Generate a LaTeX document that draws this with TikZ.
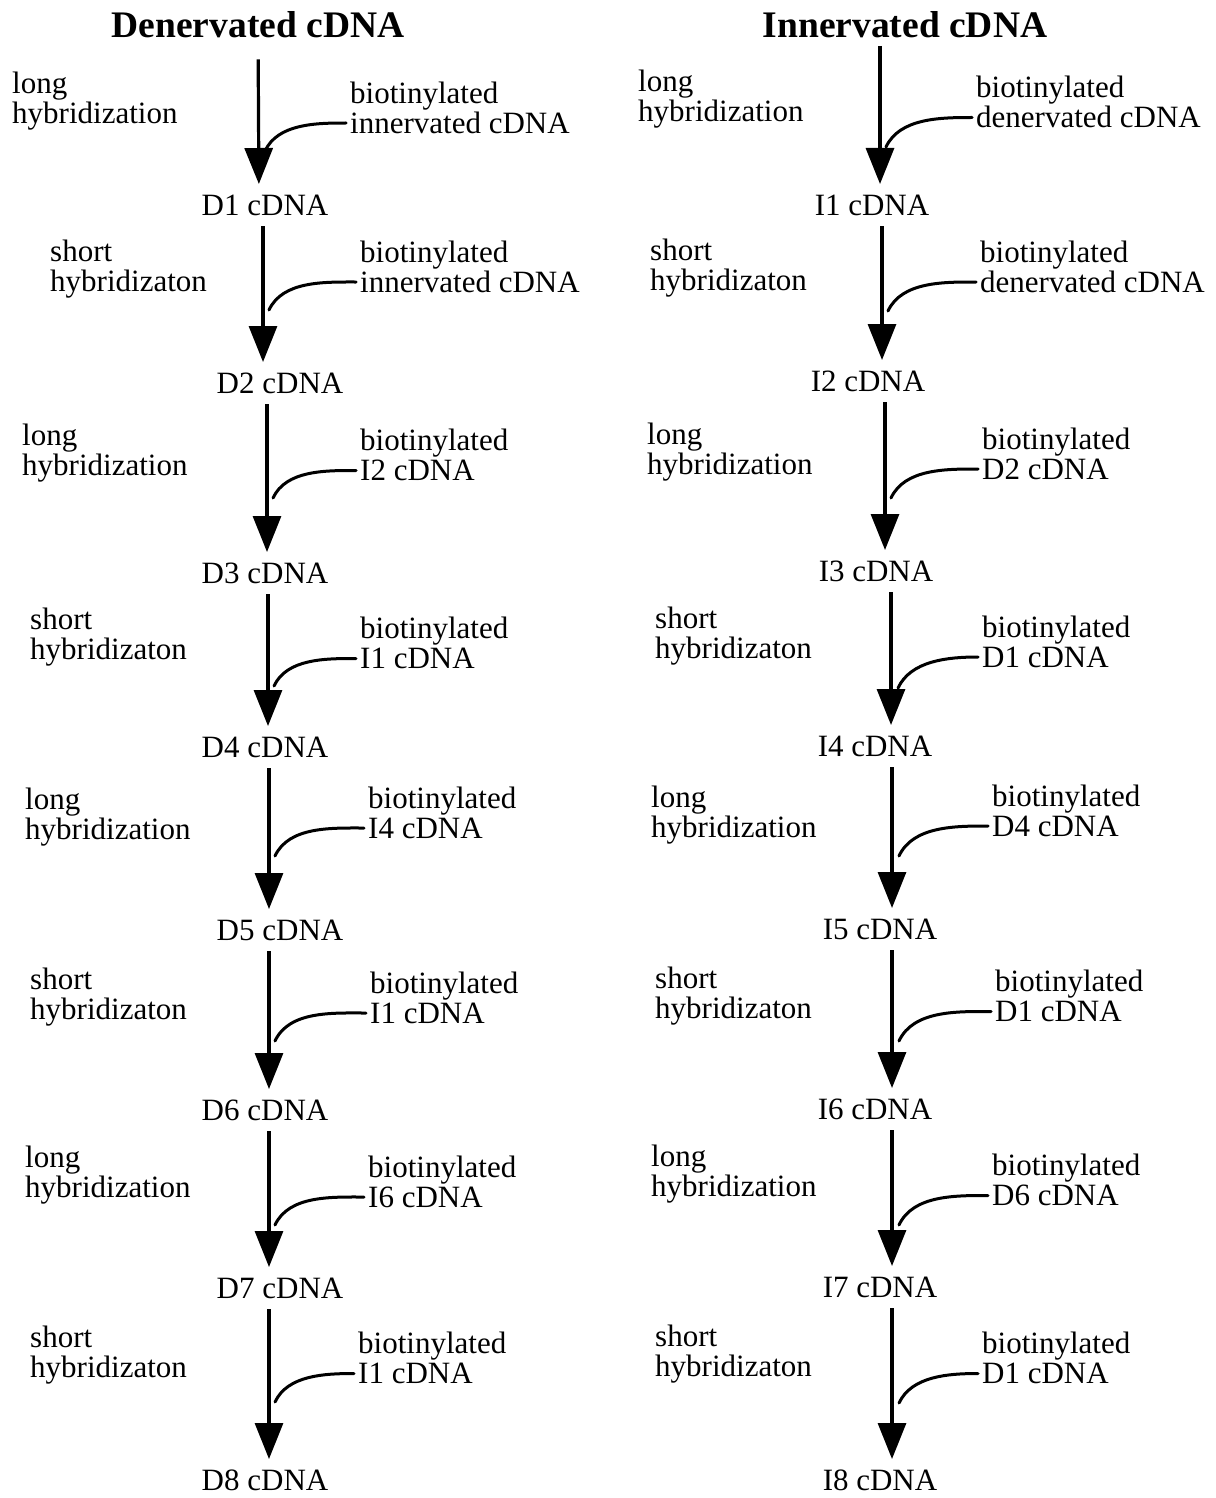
\documentclass[tikz,border=0pt]{standalone}
\usepackage{fontspec}
\setmainfont{Liberation Serif}
\usepackage{tikz}
\usetikzlibrary{positioning, calc, arrows.meta}
\tikzstyle{Flow} = [
line width=3.2pt,
-{Triangle[width=28pt,length=36pt]},
shorten <= 21pt, shorten >= 21pt]
\tikzstyle{Link} = [
line width=3pt,
line cap=round]
\tikzstyle{stage} = [inner sep=0pt, font=\fontsize{31}{30}\selectfont]
\tikzstyle{head} = [inner sep=0pt, font=\fontsize{37.5}{40}\selectfont\bfseries]
\tikzstyle{note} = [inner sep=4pt, anchor=west, align=left,
font=\fontsize{31}{30}\selectfont]

\begin{document}
\begin{tikzpicture}[x=1pt, y=1pt]
    \useasboundingbox (0,0) rectangle (1215,-1498);

    % denervated side
    \node [head] (dT) at (258,-25) {Denervated cDNA};
    \node [stage] (d1) at (265,-205) {D1 cDNA};
    \node [stage] (d2) at (280,-383) {D2 cDNA};
    \node [stage] (d3) at (265,-573) {D3 cDNA};
    \node [stage] (d4) at (265,-747) {D4 cDNA};
    \node [stage] (d5) at (280,-930) {D5 cDNA};
    \node [stage] (d6) at (265,-1110) {D6 cDNA};
    \node [stage] (d7) at (280,-1288) {D7 cDNA};
    \node [stage] (d8) at (265,-1480) {D8 cDNA};

    \node [note] (dh1) at (8,-101) {long\\hybridization};
    \node [note] (dh2) at (46,-269) {short\\hybridizaton};
    \node [note] (dh3) at (18,-453) {long\\hybridization};
    \node [note] (dh4) at (26,-637.5) {short\\hybridizaton};
    \node [note] (dh5) at (21,-817) {long\\hybridization};
    \node [note] (dh6) at (26,-997.5) {short\\hybridizaton};
    \node [note] (dh7) at (21,-1175) {long\\hybridization};
    \node [note] (dh8) at (26,-1355) {short\\hybridizaton};

    \node [note] (db1) at (346,-107.5) {biotinylated\\innervated cDNA};
    \node [note] (db2) at (356,-266.5) {biotinylated\\innervated cDNA};
    \node [note] (db3) at (356,-455) {biotinylated\\I2 cDNA};
    \node [note] (db4) at (356,-643) {biotinylated\\I1 cDNA};
    \node [note] (db5) at (364,-812.5) {biotinylated\\I4 cDNA};
    \node [note] (db6) at (366,-997.5) {biotinylated\\I1 cDNA};
    \node [note] (db7) at (364,-1181.5) {biotinylated\\I6 cDNA};
    \node [note] (db8) at (354,-1358) {biotinylated\\I1 cDNA};

    \coordinate (dc1) at (265,-151);
    \coordinate (dc2) at (269,-310);
    \coordinate (dc3) at (273,-498);
    \coordinate (dc4) at (274,-686);
    \coordinate (dc5) at (275,-856);
    \coordinate (dc6) at (275,-1041);
    \coordinate (dc7) at (275,-1225);
    \coordinate (dc8) at (275,-1402);

    \draw[Flow] (dT) -- ([xshift=-6pt]d1.center);
    \draw[Flow] ([xshift=-2pt]d1.center) -- ([xshift=-17pt]d2.center);
    \draw[Flow] ([xshift=-13pt]d2.center) -- ([xshift=2pt]d3.center);
    \draw[Flow] ([xshift=3pt]d3.center) -- ([xshift=3pt]d4.center);
    \draw[Flow] ([xshift=4pt]d4.center) -- ([xshift=-11pt]d5.center);
    \draw[Flow] ([xshift=-11pt]d5.center) -- ([xshift=4pt]d6.center);
    \draw[Flow] ([xshift=4pt]d6.center) -- ([xshift=-11pt]d7.center);
    \draw[Flow] ([xshift=-11pt]d7.center) -- ([xshift=4pt]d8.center);

    \draw[Link] ([yshift=-15.5pt]db1.west) to[out=180, in=65, looseness=0.9] (dc1);
    \draw[Link] ([yshift=-15.5pt]db2.west) to[out=180, in=65, looseness=0.9] (dc2);
    \draw[Link] ([yshift=-15.5pt]db3.west) to[out=180, in=65, looseness=0.9] (dc3);
    \draw[Link] ([yshift=-15.5pt]db4.west) to[out=180, in=65, looseness=0.9] (dc4);
    \draw[Link] ([yshift=-15.5pt]db5.west) to[out=180, in=65, looseness=0.9] (dc5);
    \draw[Link] ([yshift=-15.5pt]db6.west) to[out=180, in=65, looseness=0.9] (dc6);
    \draw[Link] ([yshift=-15.5pt]db7.west) to[out=180, in=65, looseness=0.9] (dc7);
    \draw[Link] ([yshift=-15.5pt]db8.west) to[out=180, in=65, looseness=0.9] (dc8);

    % innervated side
    \node [head] (iT) at (905,-25) {Innervated cDNA};
    \node [stage] (i1) at (872,-205) {I1 cDNA};
    \node [stage] (i2) at (868,-381) {I2 cDNA};
    \node [stage] (i3) at (876,-571) {I3 cDNA};
    \node [stage] (i4) at (875,-746) {I4 cDNA};
    \node [stage] (i5) at (880,-929) {I5 cDNA};
    \node [stage] (i6) at (875,-1109) {I6 cDNA};
    \node [stage] (i7) at (880,-1287) {I7 cDNA};
    \node [stage] (i8) at (880,-1480) {I8 cDNA};

    \node [note] (ih1) at (634,-99) {long\\hybridization};
    \node [note] (ih2) at (646,-268.5) {short\\hybridizaton};
    \node [note] (ih3) at (643,-452) {long\\hybridization};
    \node [note] (ih4) at (651,-636) {short\\hybridizaton};
    \node [note] (ih5) at (647,-815.5) {long\\hybridization};
    \node [note] (ih6) at (651,-996) {short\\hybridizaton};
    \node [note] (ih7) at (647,-1174) {long\\hybridization};
    \node [note] (ih8) at (651,-1354) {short\\hybridizaton};

    \node [note] (ib1) at (972,-102) {biotinylated\\denervated cDNA};
    \node [note] (ib2) at (976,-266.5) {biotinylated\\denervated cDNA};
    \node [note] (ib3) at (978,-453.5) {biotinylated\\D2 cDNA};
    \node [note] (ib4) at (978,-641.5) {biotinylated\\D1 cDNA};
    \node [note] (ib5) at (988,-810.5) {biotinylated\\D4 cDNA};
    \node [note] (ib6) at (991,-996) {biotinylated\\D1 cDNA};
    \node [note] (ib7) at (988,-1180) {biotinylated\\D6 cDNA};
    \node [note] (ib8) at (978,-1358) {biotinylated\\D1 cDNA};

    \coordinate (ic1) at (886,-147);
    \coordinate (ic2) at (888,-311);
    \coordinate (ic3) at (891,-498);
    \coordinate (ic4) at (898,-688);
    \coordinate (ic5) at (899,-856);
    \coordinate (ic6) at (899,-1041);
    \coordinate (ic7) at (899,-1225);
    \coordinate (ic8) at (899,-1403);

    \draw[Flow] ([xshift=-25pt]iT.center) -- ([xshift=8pt]i1.center);
    \draw[Flow] ([xshift=10pt]i1.center) -- ([xshift=14pt]i2.center);
    \draw[Flow] ([xshift=17pt]i2.center) -- ([xshift=9pt]i3.center);
    \draw[Flow] ([xshift=15pt]i3.center) -- ([xshift=16pt]i4.center);
    \draw[Flow] ([xshift=17pt]i4.center) -- ([xshift=12pt]i5.center);
    \draw[Flow] ([xshift=12pt]i5.center) -- ([xshift=17pt]i6.center);
    \draw[Flow] ([xshift=17pt]i6.center) -- ([xshift=12pt]i7.center);
    \draw[Flow] ([xshift=12pt]i7.center) -- ([xshift=12pt]i8.center);

    \draw[Link] ([yshift=-15.5pt]ib1.west) to[out=180, in=65, looseness=0.9] (ic1);
    \draw[Link] ([yshift=-15.5pt]ib2.west) to[out=180, in=65, looseness=0.9] (ic2);
    \draw[Link] ([yshift=-15.5pt]ib3.west) to[out=180, in=65, looseness=0.9] (ic3);
    \draw[Link] ([yshift=-15.5pt]ib4.west) to[out=180, in=65, looseness=0.9] (ic4);
    \draw[Link] ([yshift=-15.5pt]ib5.west) to[out=180, in=65, looseness=0.9] (ic5);
    \draw[Link] ([yshift=-15.5pt]ib6.west) to[out=180, in=65, looseness=0.9] (ic6);
    \draw[Link] ([yshift=-15.5pt]ib7.west) to[out=180, in=65, looseness=0.9] (ic7);
    \draw[Link] ([yshift=-15.5pt]ib8.west) to[out=180, in=65, looseness=0.9] (ic8);
\end{tikzpicture}
\end{document}
